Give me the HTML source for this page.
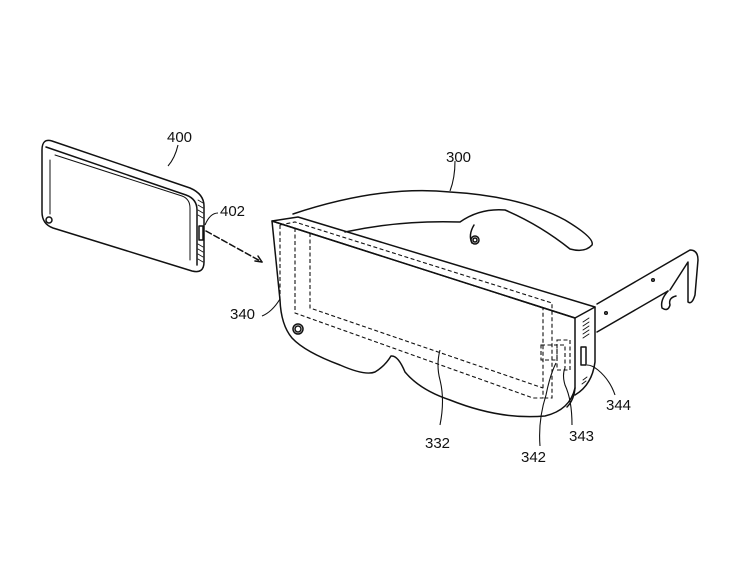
<!DOCTYPE html>
<html><head><style>
html,body{margin:0;padding:0;background:#fff;}
svg{display:block;}
text{font-family:"Liberation Sans Narrow","Liberation Sans",sans-serif;font-size:15px;fill:#111;}
</style></head><body>
<svg width="740" height="580" viewBox="0 0 740 580" xmlns="http://www.w3.org/2000/svg">
<g fill="none" stroke="#111" stroke-width="1.5" stroke-linejoin="round" stroke-linecap="round">
<!-- phone -->
<path d="M52,141 L190,188 Q204,194 204,206 L204,262 Q204,274 192,271 L53,228 Q42,224 42,212 L42,150 Q42,138 52,141 Z"/>
<path d="M46,147 L186,195 Q197,199 197,210 L197,265"/>
<path d="M55,155 L182,196 Q190,199 190,208 L190,260" stroke-width="1"/>
<path d="M50,160 L50,214" stroke-width="1"/>
<circle cx="49" cy="220" r="3"/>
<rect x="199" y="226" width="4" height="14"/>
<g stroke-width="0.8"><path d="M198,200 L203,203 M198,205 L203,208 M198,210 L203,213 M198,215 L203,218 M198,244 L203,247 M198,249 L203,252 M198,254 L203,257 M198,259 L203,262"/></g>
<!-- dashed arrow -->
<path d="M206,231 L262,262" stroke-dasharray="6,3"/>
<path d="M262,262 L255,261 M262,262 L258,256"/>
<!-- strap -->
<path d="M293,214 Q380,185 450,192 Q520,196 565,220 Q595,238 592,245 Q585,253 570,249 Q540,225 505,210 Q480,208 460,222 Q400,220 345,232"/>
<path d="M474,225 Q468,235 472,243"/>
<circle cx="475" cy="240" r="4"/>
<circle cx="475" cy="240" r="2"/>
<!-- temple arm -->
<path d="M597,304 L690,250 Q698,250 698,260 L695,295 Q692,305 688,302 L688,262 L670,290"/>
<path d="M597,332 L668,291"/>
<path d="M668,291 Q660,300 662,308 Q668,312 670,305 Q668,298 676,296"/>
<circle cx="606" cy="313" r="1.3"/><circle cx="653" cy="280" r="1.3"/>
<!-- top face -->
<path d="M272,221 L298,217 L595,307 L575,318 Z"/>
<!-- front face -->
<path d="M272,221 L575,318 L575,388 Q570,410 545,416 Q500,420 450,400 Q420,390 405,372 Q398,355 391,356 Q385,366 375,372 Q365,376 340,365 Q305,352 292,338 Q281,325 280,300 Z"/>
<!-- side -->
<path d="M595,307 L595,362 Q592,385 575,395"/>
<path d="M575,388 Q574,400 567,407"/>
<!-- button -->
<circle cx="298" cy="329" r="5"/><circle cx="298" cy="329" r="3"/>
<!-- vents -->
<g stroke-width="0.9"><path d="M583,322 L589,318 M583,326 L589,322 M583,330 L589,326 M583,334 L589,330 M583,338 L589,334 M583,380 L587,377 M582,384 L586,381"/></g>
<rect x="581" y="347" width="5" height="18"/>
</g>
<!-- dashed inner -->
<g fill="none" stroke="#111" stroke-width="1.1" stroke-dasharray="4,2.5">
<path d="M280,225 L295,222 L552,303 L552,398 L543,398"/>
<path d="M280,225 L280,300"/>
<path d="M295,228 L295,313 L533,398 L543,398 L543,308"/>
<path d="M310,233 L543,308"/>
<path d="M310,233 L310,308 L543,388"/>
<path d="M541,345 L557,345 L557,360 L541,360 Z"/>
<path d="M557,340 L570,340 L570,370 L557,370 Z"/>
<path d="M560,345 L565,345 L565,368"/>
</g>
<!-- leaders -->
<g fill="none" stroke="#111" stroke-width="1.1">
<path d="M178,145 Q175,158 168,166"/>
<path d="M218,213 Q210,213 205,225"/>
<path d="M455,161 Q455,178 450,191"/>
<path d="M262,316 Q272,312 280,299"/>
<path d="M440,425 Q445,400 440,380 Q436,365 440,350"/>
<path d="M540,446 Q538,420 546,395 Q550,375 556,363"/>
<path d="M572,425 Q572,400 565,385 Q562,375 565,368"/>
<path d="M615,395 Q610,380 598,370 Q592,365 587,365"/>
</g>
<text x="167" y="142">400</text>
<text x="220" y="216">402</text>
<text x="446" y="162">300</text>
<text x="230" y="319">340</text>
<text x="425" y="448">332</text>
<text x="521" y="462">342</text>
<text x="569" y="441">343</text>
<text x="606" y="410">344</text>
</svg>
</body></html>
